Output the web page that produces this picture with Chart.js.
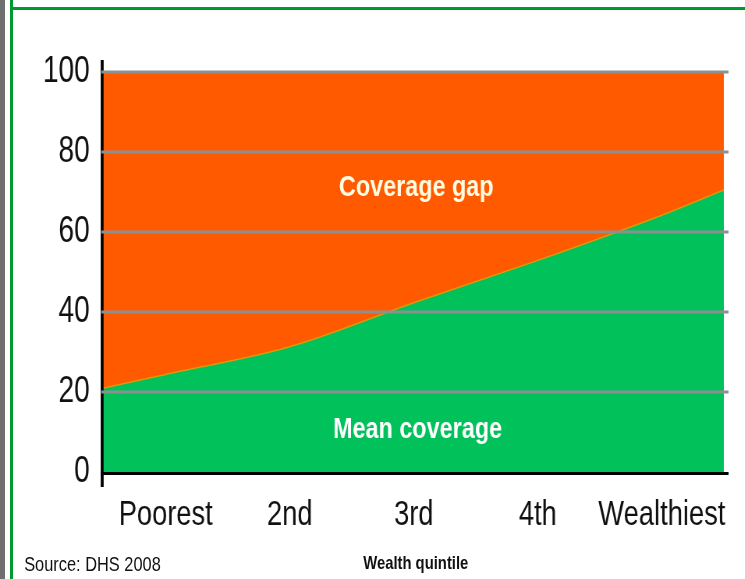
<!DOCTYPE html>
<html>
<head>
<meta charset="utf-8">
<script src="https://cdn.jsdelivr.net/npm/chart.js@4/dist/chart.umd.min.js"></script>
<style>
  html, body { margin: 0; padding: 0; background: #fff; }
  body { width: 745px; height: 579px; position: relative; overflow: hidden; font-family: "Liberation Sans", Arial, sans-serif; }
  #greybar { position: absolute; left: 0; top: 0; width: 5px; height: 579px; background: #6e6e6e; }
  #greenv { position: absolute; left: 10px; top: 0; width: 3px; height: 579px; background: #00992f; }
  #greenh { position: absolute; left: 10px; top: 7px; width: 735px; height: 3px; background: #00992f; }
  /* the reference is a horizontally squeezed picture: draw wide, squeeze to 745 */
  #wrap { position: absolute; left: 0; top: 0; width: 955px; height: 579px; transform: scaleX(0.78); transform-origin: 0 0; }
  #c { position: absolute; left: 0; top: 0; }
  .note { position: absolute; color: #111; white-space: nowrap; }
  #source { left: 31px; top: 552px; font-size: 21px; }
  #xtitle { left: 533px; top: 552px; transform: translateX(-50%); font-weight: bold; font-size: 19px; }
</style>
</head>
<body>
<div id="greybar"></div>
<div id="greenv"></div>
<div id="greenh"></div>
<div id="wrap">
  <canvas id="c" width="955" height="579"></canvas>
  <div class="note" id="source">Source: DHS 2008</div>
  <div class="note" id="xtitle">Wealth quintile</div>
</div>
<script>
// Wealth quintile categories, centred in five equal bands (axis units 0..5)
const categories = ["Poorest", "2nd", "3rd", "4th", "Wealthiest"];
const categoryPositions = [0.5, 1.5, 2.5, 3.5, 4.5];
// Mean coverage curve (axis units along x)
const curveX = [0, 0.5, 1.5, 2.5, 3.5, 4.5, 5];
const meanCoverage = [21, 24.4, 31.3, 42.3, 52.9, 64.2, 70.5];
// Total (top of the coverage gap)
const totalCoverage = [100, 100, 100, 100, 100, 100, 100];
const yTicks = [0, 20, 40, 60, 80, 100];
const annotations = [
  { text: "Coverage gap", x: 2.52, y: 71, color: "#fffbe0" },
  { text: "Mean coverage", x: 2.53, y: 10.5, color: "#ffffff" }
];

const FONT = '"Liberation Sans", Arial, sans-serif';

const overlay = {
  id: 'overlay',
  afterDatasetsDraw(chart) {
    const ctx = chart.ctx;
    const ca = chart.chartArea;
    const ys = chart.scales.y, xs = chart.scales.x;
    ctx.save();
    // axis lines
    ctx.strokeStyle = '#000';
    ctx.lineWidth = 3.8;
    ctx.beginPath();
    ctx.moveTo(ca.left - 2, ca.top - 12);
    ctx.lineTo(ca.left - 2, ca.bottom + 15);
    ctx.stroke();
    ctx.lineWidth = 3;
    ctx.beginPath();
    ctx.moveTo(ca.left - 4, ys.getPixelForValue(0) + 1.5);
    ctx.lineTo(ca.right + 6, ys.getPixelForValue(0) + 1.5);
    ctx.stroke();
    // grid lines on top of the areas
    ctx.strokeStyle = '#8d9090';
    ctx.lineWidth = 3;
    yTicks.forEach(v => {
      if (v === 0) return;
      const y = ys.getPixelForValue(v);
      ctx.beginPath();
      ctx.moveTo(ca.left - 3, y);
      ctx.lineTo(ca.right + 6, y);
      ctx.stroke();
    });
    // in-area labels
    ctx.font = 'bold 30px ' + FONT;
    ctx.textAlign = 'center';
    ctx.textBaseline = 'middle';
    annotations.forEach(a => {
      ctx.fillStyle = a.color;
      ctx.fillText(a.text, xs.getPixelForValue(a.x), ys.getPixelForValue(a.y));
    });
    ctx.restore();
  }
};

new Chart(document.getElementById('c'), {
  type: 'line',
  data: {
    datasets: [
      {
        label: 'Mean coverage',
        data: curveX.map((x, i) => ({ x, y: meanCoverage[i] })),
        fill: 'origin',
        backgroundColor: '#00c15a',
        borderColor: 'rgba(235,150,0,0.85)',
        borderWidth: 1.5,
        pointRadius: 0,
        cubicInterpolationMode: 'monotone'
      },
      {
        label: 'Coverage gap',
        data: curveX.map((x, i) => ({ x, y: totalCoverage[i] })),
        fill: '-1',
        backgroundColor: '#ff5a00',
        borderWidth: 0,
        pointRadius: 0
      }
    ]
  },
  options: {
    responsive: false,
    animation: false,
    events: [],
    layout: { padding: { left: 0, top: 72, right: 27, bottom: 47 } },
    plugins: { legend: { display: false }, tooltip: { enabled: false } },
    scales: {
      x: {
        type: 'linear',
        min: 0, max: 5,
        afterBuildTicks(scale) { scale.ticks = categoryPositions.map(v => ({ value: v })); },
        afterFit(scale) { scale.height = 60; scale.paddingLeft = 0; scale.paddingRight = 0; },
        ticks: {
          autoSkip: false,
          maxRotation: 0,
          padding: 22,
          color: '#111',
          font: { family: FONT, size: 35 },
          callback(value) {
            const i = categoryPositions.indexOf(value);
            return i >= 0 ? categories[i] : '';
          }
        },
        grid: { display: false, drawTicks: false },
        border: { display: false }
      },
      y: {
        min: 0, max: 100,
        afterBuildTicks(scale) { scale.ticks = yTicks.map(v => ({ value: v })); },
        afterFit(scale) { scale.width = 133; scale.paddingTop = 0; scale.paddingBottom = 0; },
        ticks: {
          padding: 18,
          color: '#111',
          font: { family: FONT, size: 36 }
        },
        grid: { display: false, drawTicks: false },
        border: { display: false }
      }
    }
  },
  plugins: [overlay]
});
</script>
</body>
</html>
